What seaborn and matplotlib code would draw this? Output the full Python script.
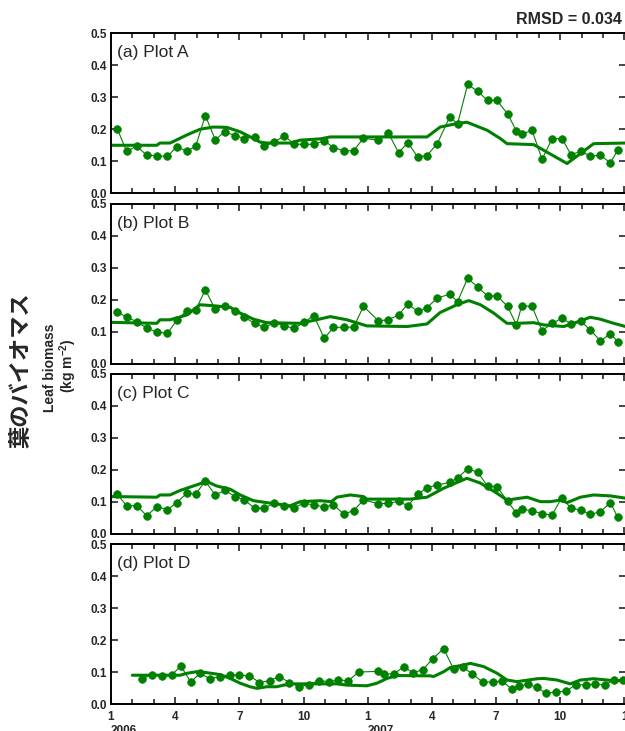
import seaborn as sns
import matplotlib.pyplot as plt
import matplotlib.transforms as mtransforms
from matplotlib.ticker import MultipleLocator

sns.set_style('ticks')
plt.rcParams['font.family'] = ['Liberation Sans', 'Noto Sans CJK JP', 'DejaVu Sans']
plt.rcParams['mathtext.fontset'] = 'custom'
plt.rcParams['mathtext.rm'] = 'Liberation Sans:bold'
plt.rcParams['mathtext.bf'] = 'Liberation Sans:bold'

# months since 1 Jan 2006
obs_months = [0.29, 0.73, 1.2, 1.67, 2.14, 2.64, 3.07, 3.54, 3.96, 4.41, 4.87, 5.33, 5.80,
              6.24, 6.71, 7.17, 7.64, 8.11, 8.56, 9.01, 9.48, 9.97, 10.4, 10.87, 11.34, 11.8,
              12.5, 12.97, 13.44, 13.88, 14.33, 14.77, 15.25, 15.83, 16.2, 16.67, 17.14, 17.6,
              18.04, 18.54, 18.95, 19.2, 19.68, 20.15, 20.62, 21.08, 21.5, 21.97, 22.41, 22.88,
              23.34, 23.69]
obs_a = [0.202, 0.131, 0.147, 0.119, 0.118, 0.115, 0.146, 0.131, 0.147, 0.243, 0.168, 0.192,
         0.180, 0.171, 0.177, 0.147, 0.160, 0.180, 0.153, 0.153, 0.153, 0.164, 0.143, 0.133,
         0.133, 0.172, 0.166, 0.188, 0.127, 0.158, 0.114, 0.118, 0.155, 0.238, 0.217, 0.340,
         0.319, 0.290, 0.290, 0.248, 0.195, 0.184, 0.197, 0.106, 0.171, 0.171, 0.121, 0.131,
         0.116, 0.119, 0.095, 0.135]
obs_b = [0.162, 0.147, 0.132, 0.112, 0.100, 0.096, 0.136, 0.167, 0.169, 0.232, 0.171, 0.182,
         0.167, 0.146, 0.127, 0.114, 0.129, 0.119, 0.111, 0.130, 0.151, 0.080, 0.114, 0.115,
         0.115, 0.180, 0.135, 0.138, 0.153, 0.188, 0.164, 0.176, 0.206, 0.218, 0.195, 0.268,
         0.240, 0.213, 0.213, 0.180, 0.122, 0.182, 0.180, 0.104, 0.127, 0.143, 0.125, 0.133,
         0.106, 0.072, 0.094, 0.070]
obs_c = [0.124, 0.089, 0.089, 0.057, 0.085, 0.076, 0.098, 0.127, 0.125, 0.165, 0.122, 0.136,
         0.117, 0.106, 0.081, 0.081, 0.096, 0.086, 0.082, 0.096, 0.091, 0.084, 0.092, 0.062,
         0.073, 0.106, 0.095, 0.096, 0.102, 0.088, 0.124, 0.145, 0.153, 0.161, 0.175, 0.204,
         0.193, 0.150, 0.148, 0.102, 0.065, 0.077, 0.073, 0.063, 0.060, 0.114, 0.080, 0.075,
         0.061, 0.070, 0.098, 0.052]
obs_d_months = [1.43, 1.9, 2.37, 2.84, 3.27, 3.73, 4.16, 4.63, 5.1, 5.57, 6.0, 6.47, 6.94, 7.41,
                7.87, 8.34, 8.81, 9.25, 9.7, 10.2, 10.63, 11.1, 11.57, 12.48, 12.74, 13.21, 13.68,
                14.12, 14.58, 15.03, 15.55, 16.01, 16.45, 16.89, 17.37, 17.84, 18.28, 18.75,
                19.09, 19.48, 19.92, 20.35, 20.82, 21.27, 21.72, 22.19, 22.64, 23.11, 23.5, 23.94]
obs_d = [0.079, 0.090, 0.089, 0.092, 0.118, 0.069, 0.096, 0.079, 0.086, 0.092, 0.090, 0.089,
         0.067, 0.073, 0.086, 0.067, 0.054, 0.061, 0.073, 0.070, 0.075, 0.073, 0.100, 0.102,
         0.094, 0.094, 0.116, 0.098, 0.107, 0.141, 0.173, 0.110, 0.115, 0.094, 0.069, 0.069,
         0.072, 0.046, 0.056, 0.062, 0.052, 0.033, 0.038, 0.040, 0.060, 0.060, 0.062, 0.060,
         0.075, 0.075]

mod_a_months = [0, 2.14, 2.29, 2.76, 2.92, 3.54, 4.16, 4.79, 5.41, 6.04, 6.66, 6.97, 7.28, 8.37,
                8.84, 9.78, 10.25, 11.96, 14.77, 15.39, 16.17, 16.64, 17.58, 18.2, 18.51, 19.76,
                21.32, 22.56, 24.05]
mod_a = [0.150, 0.150, 0.157, 0.157, 0.162, 0.182, 0.200, 0.207, 0.206, 0.192, 0.171, 0.160,
         0.157, 0.157, 0.166, 0.170, 0.176, 0.176, 0.176, 0.207, 0.218, 0.222, 0.197, 0.171,
         0.155, 0.152, 0.093, 0.155, 0.157]
mod_b_months = [0, 2.14, 2.29, 2.76, 3.54, 4.16, 4.79, 5.57, 6.04, 6.66, 7.28, 8.84, 9.6, 10.25,
                11.03, 11.96, 13.84, 14.77, 15.39, 16.17, 16.72, 17.27, 17.89, 18.51, 18.97,
                19.76, 20.23, 21.16, 21.63, 22.4, 22.87, 23.5, 24.05]
mod_b = [0.130, 0.127, 0.138, 0.138, 0.153, 0.185, 0.182, 0.177, 0.159, 0.140, 0.129, 0.127,
         0.138, 0.148, 0.138, 0.119, 0.117, 0.125, 0.161, 0.185, 0.198, 0.185, 0.159, 0.127,
         0.127, 0.129, 0.122, 0.117, 0.127, 0.146, 0.140, 0.127, 0.117]
mod_c_months = [0, 2.14, 2.29, 2.76, 3.23, 4.16, 4.48, 4.94, 5.57, 6.04, 6.66, 7.28, 8.06, 8.37,
                8.84, 9.78, 10.3, 10.56, 11.18, 11.8, 11.96, 13.99, 14.77, 15.55, 16.17, 16.64,
                17.27, 18.05, 18.51, 19.45, 20.07, 20.54, 21.0, 21.32, 21.94, 22.56, 23.34, 24.05]
mod_c = [0.117, 0.115, 0.122, 0.122, 0.136, 0.157, 0.164, 0.150, 0.140, 0.122, 0.104, 0.098,
         0.091, 0.088, 0.101, 0.104, 0.101, 0.115, 0.122, 0.117, 0.109, 0.109, 0.115, 0.143,
         0.161, 0.174, 0.159, 0.127, 0.106, 0.115, 0.101, 0.101, 0.106, 0.098, 0.115, 0.122,
         0.119, 0.112]
mod_d_months = [1.0, 3.23, 3.54, 4.01, 4.48, 5.1, 5.57, 6.04, 6.5, 6.82, 7.28, 7.75, 8.06, 8.53,
                9.78, 10.56, 11.03, 11.96, 12.43, 12.9, 13.37, 14.93, 15.08, 15.55, 15.86, 16.48,
                16.8, 17.42, 18.05, 18.51, 18.98, 19.92, 20.23, 20.85, 21.47, 21.94, 22.56, 23.5,
                24.05]
mod_d = [0.090, 0.090, 0.096, 0.101, 0.098, 0.092, 0.080, 0.065, 0.054, 0.049, 0.054, 0.054,
         0.059, 0.063, 0.063, 0.063, 0.059, 0.057, 0.065, 0.080, 0.089, 0.088, 0.086, 0.101,
         0.114, 0.122, 0.127, 0.117, 0.096, 0.075, 0.070, 0.079, 0.080, 0.075, 0.063, 0.075,
         0.079, 0.073, 0.073]

panel_labels = ['(a) Plot A', '(b) Plot B', '(c) Plot C', '(d) Plot D']
month_labels = ['1', '4', '7', '10', '1', '4', '7', '10', '1']
year_labels = ['2006', '2007']

panels = [(mod_a_months, mod_a, obs_months, obs_a),
          (mod_b_months, mod_b, obs_months, obs_b),
          (mod_c_months, mod_c, obs_months, obs_c),
          (mod_d_months, mod_d, obs_d_months, obs_d)]

green = '#008000'
fig = plt.figure(figsize=(6.25, 7.31), dpi=100)
bottoms = [0.7356, 0.5021, 0.2695, 0.0369]

for i, (mm, mv, om, ov) in enumerate(panels):
    ax = fig.add_axes([0.1776, bottoms[i], 0.8232, 0.2189])
    sns.lineplot(x=mm, y=mv, ax=ax, color=green, linewidth=2.2, estimator=None)
    sns.lineplot(x=om, y=ov, ax=ax, color=green, linewidth=0.8, estimator=None,
                 marker='o', markersize=5.5, markeredgecolor=green, markeredgewidth=0.5)
    ax.set_xlim(0, 24.05)
    ax.set_ylim(0, 0.5)
    ax.xaxis.set_major_locator(MultipleLocator(3))
    ax.xaxis.set_minor_locator(MultipleLocator(1))
    ax.yaxis.set_major_locator(MultipleLocator(0.1))
    ax.tick_params(axis='both', which='both', direction='in', top=True, right=True,
                   width=1.2, labelsize=8.5)
    ax.tick_params(axis='x', which='major', length=5, pad=5)
    ax.tick_params(axis='x', which='minor', length=3.5)
    ax.tick_params(axis='y', which='major', length=5, pad=3)
    for s in ax.spines.values():
        s.set_linewidth(1.4)
        s.set_color('black')
    ax.set_yticklabels([f'{v:.1f}' for v in ax.get_yticks()], fontweight='bold')
    if i == 3:
        ax.set_xticks(range(0, 25, 3))
        ax.set_xticklabels(month_labels, fontweight='bold')
        trans = mtransforms.blended_transform_factory(ax.transData, ax.transAxes)
        for yr, pos in zip(year_labels, [0, 12]):
            ax.text(pos, -0.13, yr, transform=trans, ha='left', va='top',
                    fontsize=8.5, fontweight='bold')
    else:
        ax.set_xticklabels([])
    ax.set_xlabel('')
    ax.set_ylabel('')
    ax.text(0.012, 0.878, panel_labels[i], transform=ax.transAxes, fontsize=12.5,
            ha='left', va='center')

fig.text(622 / 625, 1 - 19 / 731, 'RMSD = 0.034', ha='right', va='center',
         fontsize=11.5, fontweight='bold')
fig.text(21 / 625, 1 - 370 / 731, '葉のバイオマス', rotation=90, ha='center', va='center',
         fontsize=16, fontweight='bold', family=['Noto Sans CJK JP', 'DejaVu Sans'])
fig.text(50 / 625, 1 - 368 / 731, 'Leaf biomass', rotation=90, ha='center', va='center',
         fontsize=10, fontweight='bold')
fig.text(68 / 625, 1 - 366 / 731, '(kg m$^{-2}$)', rotation=90, ha='center', va='center',
         fontsize=10, fontweight='bold')

fig.savefig('out.png', dpi=100)
